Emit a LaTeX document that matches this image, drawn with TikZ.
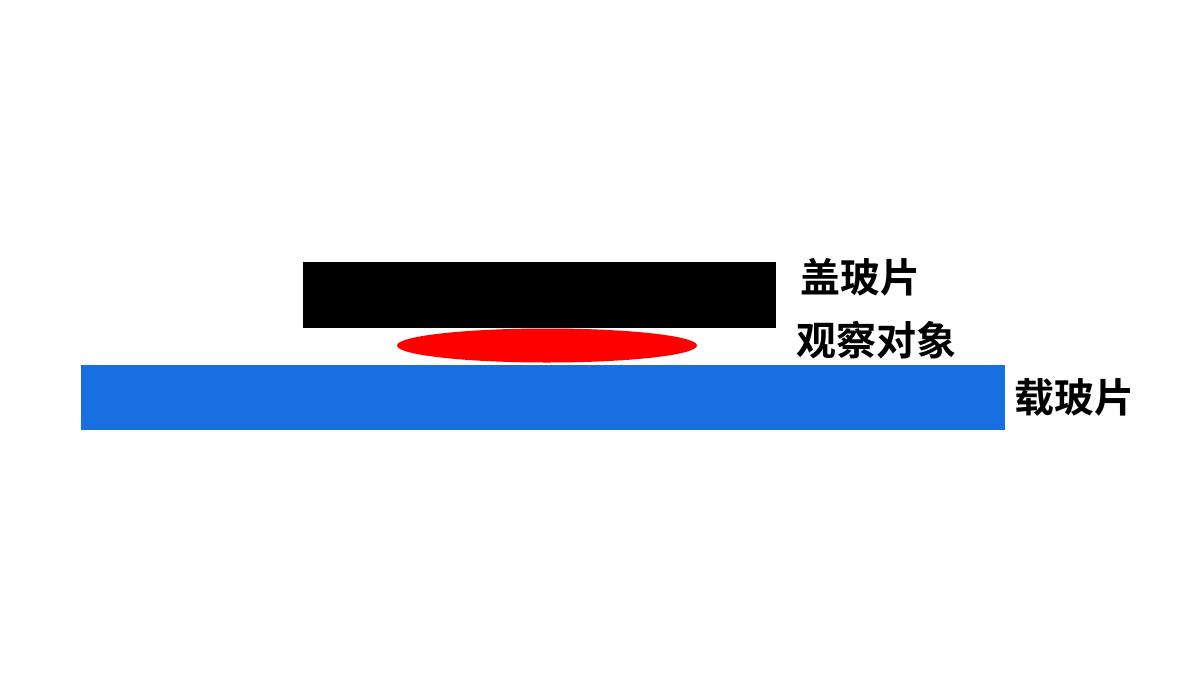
\documentclass[tikz,border=0pt]{standalone}
\usepackage{fontspec}
\newfontfamily\cjk{Noto Sans CJK SC}[BoldFont={Noto Sans CJK SC Bold}]
\definecolor{slideblue}{RGB}{26,111,224}
\definecolor{objred}{RGB}{255,0,0}
\tikzset{
  lbl/.style={font=\cjk\bfseries\fontsize{40}{44}\selectfont, inner sep=0pt, text=black},
}
\begin{document}
\begin{tikzpicture}[x=1pt,y=-1pt]
\useasboundingbox (0,0) rectangle (1200,675);
\fill[white] (0,0) rectangle (1200,675);
% slide
\fill[slideblue] (81,365) rectangle (1005,430);
% cover glass
\fill[black] (303,262) rectangle (776,328);
% object
\fill[objred] (547,345.5) ellipse [x radius=150, y radius=17];
% labels
\node[lbl] (cover) at (860,277) {盖玻片};
\node[lbl] (obj) at (876,340) {观察对象};
\node[lbl] (slide) at (1074,397) {载玻片};
\end{tikzpicture}
\end{document}
